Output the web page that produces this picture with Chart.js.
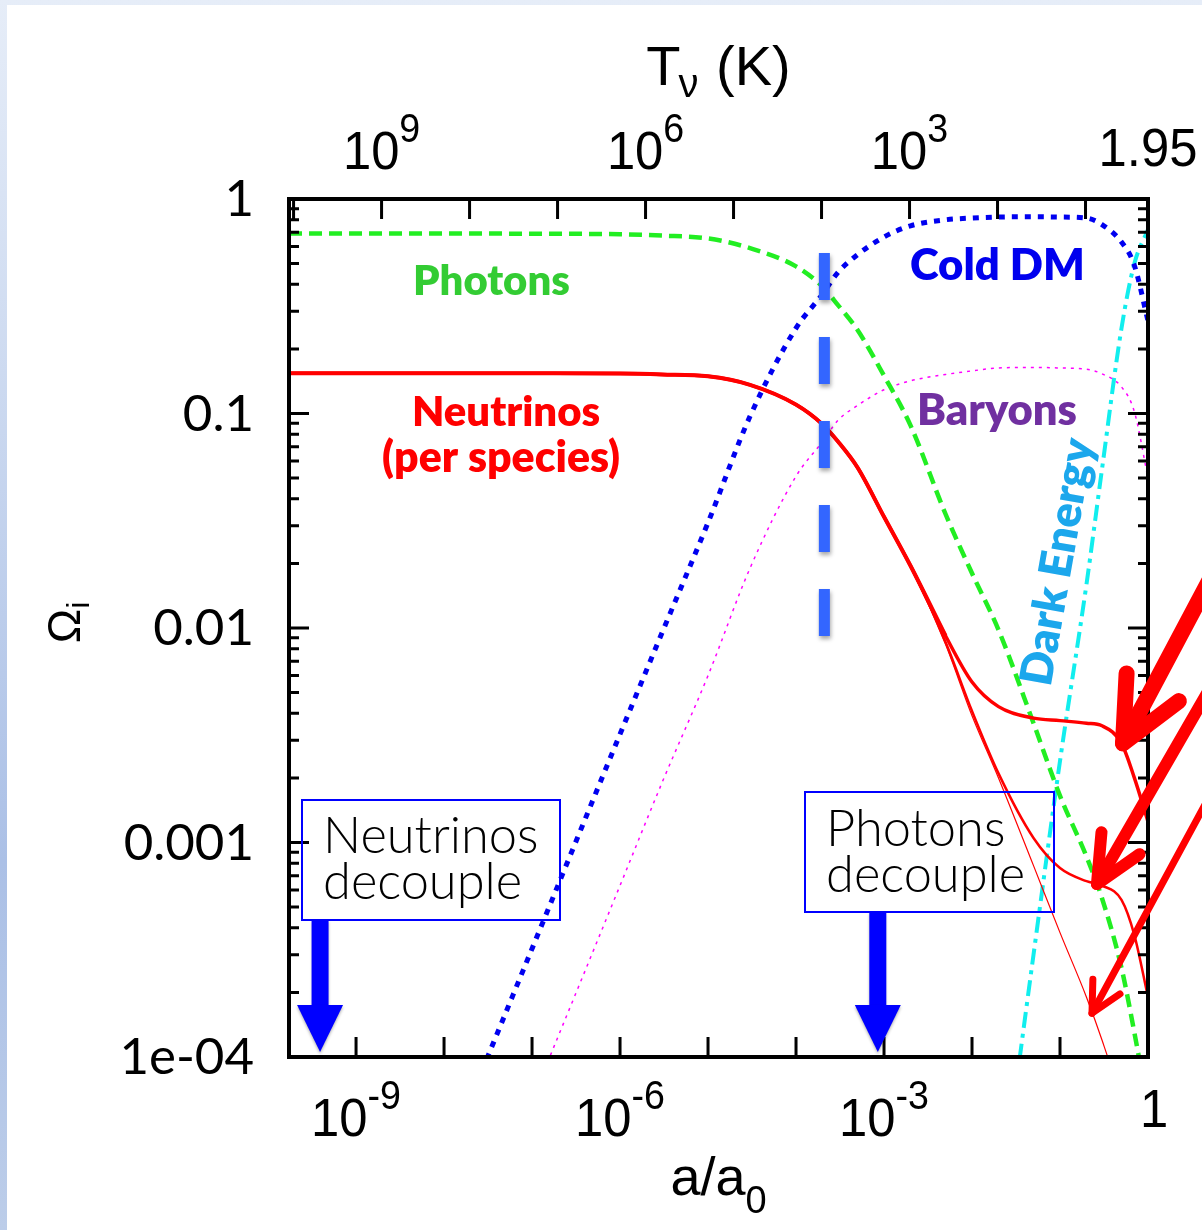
<!DOCTYPE html>
<html>
<head>
<meta charset="utf-8">
<title>Omega_i versus a/a0</title>
<script src="https://cdn.jsdelivr.net/npm/chart.js@4.4.1/dist/chart.umd.min.js"></script>
<style>
  html, body { margin: 0; padding: 0; }
  body {
    width: 1202px; height: 1230px; overflow: hidden; position: relative;
    background: linear-gradient(to bottom, #e6edf8 0%, #c9d7ef 35%, #abc0e6 70%, #bccde9 100%);
  }
  #card { position: absolute; left: 7px; top: 5px; right: 0; bottom: 0; background: #fff; }
  #chart { position: absolute; left: 0; top: 0; }
</style>
</head>
<body>
<div id="card"></div>
<canvas id="chart" width="1202" height="1230"></canvas>
<script>
const A = [1.73e-10, 1e-9, 1e-8, 1e-7, 1e-6, 3e-6, 1e-5, 3e-5, 1e-4, 2e-4, 3e-4, 5e-4, 1e-3,
           2e-3, 5e-3, 1e-2, 2e-2, 5e-2, 0.1, 0.2, 0.3, 0.5, 0.7, 1];

// Omega_i at each A (estimated from the figure)
const PHOTONS = [0.69, 0.69, 0.69, 0.689, 0.685, 0.675, 0.655, 0.59, 0.485, 0.39, 0.32, 0.245, 0.15,
                 0.088, 0.034, 0.018, 0.0098, 0.0036, 0.00165, 8.6e-4, 5.5e-4, 2.6e-4, 1.3e-4, 5.8e-5];
const NU_HEAVY = [0.154, 0.154, 0.154, 0.154, 0.1535, 0.152, 0.149, 0.136, 0.11, 0.089, 0.074, 0.056, 0.033,
                  0.0195, 0.0092, 0.0056, 0.0043, 0.0038, 0.0037, 0.0036, 0.0035, 0.0029, 0.002, 0.00125];
const NU_MEDIUM = [0.154, 0.154, 0.154, 0.154, 0.1535, 0.152, 0.149, 0.136, 0.11, 0.089, 0.074, 0.056, 0.033,
                   0.0195, 0.0086, 0.0041, 0.0021, 0.00105, 7.6e-4, 6.6e-4, 6.3e-4, 5.4e-4, 3.7e-4, 1.9e-4];
const NU_MASSLESS = [0.154, 0.154, 0.154, 0.154, 0.1535, 0.152, 0.149, 0.136, 0.11, 0.089, 0.074, 0.056, 0.033,
                     0.0195, 0.0084, 0.0039, 0.002, 7.8e-4, 3.8e-4, 1.9e-4, 1.2e-4, 6.2e-5, 3.5e-5, 1.6e-5];
const COLD_DM = [5.6e-7, 3.2e-6, 3.2e-5, 3.2e-4, 3.2e-3, 9.5e-3, 0.031, 0.097, 0.25, 0.36, 0.455, 0.55, 0.665,
                 0.75, 0.80, 0.815, 0.824, 0.826, 0.824, 0.815, 0.76, 0.63, 0.49, 0.27];
const BARYONS = [1.1e-7, 6.3e-7, 6.3e-6, 6.3e-5, 6.3e-4, 1.9e-3, 6.0e-3, 0.019, 0.051, 0.074, 0.093, 0.109, 0.129,
                 0.142, 0.152, 0.158, 0.163, 0.164, 0.163, 0.161, 0.153, 0.133, 0.102, 0.05];
const DARK_ENERGY = [null, null, null, null, null, null, null, null, null, null, null, null, null,
                     null, null, 2.3e-6, 1.8e-5, 3.0e-4, 2.4e-3, 0.016, 0.055, 0.25, 0.5, 0.72];

// matter-radiation equality marker and decoupling epochs
const EQUALITY_A = 2.1e-4;
const EQUALITY_SPAN = [0.56, 0.0091];
const NU_DECOUPLE_A = 3.9e-10;
const GAMMA_DECOUPLE_A = 8.5e-4;

// axes
const A_MIN = 1.73e-10, A_MAX = 1;
const OMEGA_MIN = 1e-4, OMEGA_MAX = 1;
const T_NU_TODAY = 1.95;
const A_TICKS = [1e-9, 1e-8, 1e-7, 1e-6, 1e-5, 1e-4, 1e-3, 1e-2, 1e-1];
const A_TICK_LABELS = [[1e-9, '10', '-9'], [1e-6, '10', '-6'], [1e-3, '10', '-3'], [1, '1', '']];
const T_TICKS = [1e10, 1e9, 1e8, 1e7, 1e6, 1e5, 1e4, 1e3, 1e2, 1e1];
const T_TICK_LABELS = [[1e9, '10', '9'], [1e6, '10', '6'], [1e3, '10', '3'], [1.95, '1.95', '']];
const OMEGA_DECADES = [1, 0.1, 0.01, 0.001, 1e-4];
const OMEGA_LABELS = ['1', '0.1', '0.01', '0.001', '1e-04'];

const HELV = '"Liberation Sans", Arial, sans-serif';
const GOTHIC = 'Lato, "Open Sans", sans-serif';

const pts = ys => A.map((a, i) => ({ x: a, y: ys[i] }));

function curve(label, ys, color, width, dash) {
  return {
    label, data: pts(ys), borderColor: color, borderWidth: width, borderDash: dash || [],
    borderCapStyle: 'butt', pointRadius: 0, fill: false, cubicInterpolationMode: 'monotone',
  };
}

// dataset 0 is painted last (on top)
const datasets = [
  {
    label: 'equality', data: [{ x: EQUALITY_A, y: EQUALITY_SPAN[0] }, { x: EQUALITY_A, y: EQUALITY_SPAN[1] }],
    borderColor: '#3366ff', borderWidth: 11, borderDash: [47, 37], borderCapStyle: 'butt', pointRadius: 0,
  },
  curve('Neutrinos (heavy)', NU_HEAVY, '#ff0000', 3.5),
  curve('Neutrinos (medium)', NU_MEDIUM, '#ff0000', 2.5),
  curve('Neutrinos (massless)', NU_MASSLESS, '#ff0000', 1.2),
  curve('Photons', PHOTONS, '#22ee22', 4.5, [13, 7]),
  curve('Cold DM', COLD_DM, '#0000f0', 5, [6, 7]),
  curve('Baryons', BARYONS, '#ff00ff', 1.5, [3, 5]),
  curve('Dark Energy', DARK_ENERGY, '#11eeee', 4, [16, 6, 4, 6]),
];
// early neutrino trunk is drawn thick
datasets.push(curve('Neutrinos', NU_HEAVY.map((v, i) => (A[i] <= 5e-3 ? v : null)), '#ff0000', 4));

const shadowPlugin = {
  id: 'shadow',
  beforeDatasetDraw(chart, args) {
    if (args.index !== 0) return;
    const ctx = chart.ctx;
    ctx.save();
    ctx.shadowColor = 'rgba(0,0,0,0.35)';
    ctx.shadowBlur = 4;
    ctx.shadowOffsetX = 1;
    ctx.shadowOffsetY = 3;
  },
  afterDatasetDraw(chart, args) {
    if (args.index === 0) chart.ctx.restore();
  },
};

function fitFont(ctx, text, weight, family, width) {
  ctx.font = `${weight} 100px ${family}`;
  const size = 100 * width / ctx.measureText(text).width;
  ctx.font = `${weight} ${size.toFixed(1)}px ${family}`;
  return size;
}

function drawPower(ctx, base, exp, cx, baseline, size) {
  ctx.save();
  ctx.translate(cx, baseline);
  ctx.scale(0.94, 1);
  const esize = size * 0.74;
  ctx.font = `${size}px ${HELV}`;
  const wb = ctx.measureText(base).width;
  ctx.font = `${esize}px ${HELV}`;
  const we = exp ? ctx.measureText(exp).width : 0;
  const x0 = -(wb + we) / 2;
  ctx.textAlign = 'left';
  ctx.textBaseline = 'alphabetic';
  ctx.fillStyle = '#000';
  ctx.font = `${size}px ${HELV}`;
  ctx.fillText(base, x0, 0);
  if (exp) {
    ctx.font = `${esize}px ${HELV}`;
    ctx.fillText(exp, x0 + wb, -size * 0.5);
  }
  ctx.restore();
}

function redArrow(ctx, tx, ty, dir, width, head, spread) {
  const ang = Math.atan2(dir[1], dir[0]);
  const s = spread * Math.PI / 180;
  ctx.save();
  ctx.strokeStyle = '#ff0000';
  ctx.lineWidth = width;
  ctx.lineCap = 'round';
  ctx.lineJoin = 'round';
  ctx.beginPath();
  ctx.moveTo(tx, ty);
  ctx.lineTo(tx + Math.cos(ang) * 400, ty + Math.sin(ang) * 400);
  ctx.stroke();
  ctx.beginPath();
  ctx.moveTo(tx + Math.cos(ang - s) * head, ty + Math.sin(ang - s) * head);
  ctx.lineTo(tx, ty);
  ctx.lineTo(tx + Math.cos(ang + s) * head, ty + Math.sin(ang + s) * head);
  ctx.stroke();
  ctx.restore();
}

function blueArrow(ctx, x, yTop, yTip) {
  ctx.save();
  ctx.fillStyle = '#0000ff';
  ctx.shadowColor = 'rgba(0,0,0,0.3)';
  ctx.shadowBlur = 3;
  ctx.shadowOffsetY = 2;
  ctx.fillRect(x - 8.5, yTop, 17, yTip - 47 - yTop + 1);
  ctx.beginPath();
  ctx.moveTo(x - 23, yTip - 47);
  ctx.lineTo(x + 23, yTip - 47);
  ctx.lineTo(x, yTip);
  ctx.closePath();
  ctx.fill();
  ctx.restore();
}

const framePlugin = {
  id: 'frame',
  afterDatasetsDraw(chart) {
    const ctx = chart.ctx;
    const { left, right, top, bottom } = chart.chartArea;
    const xs = chart.scales.x, ys = chart.scales.y;

    // tick marks, all pointing inward
    ctx.save();
    ctx.strokeStyle = '#000';
    ctx.lineWidth = 3;
    ctx.beginPath();
    A_TICKS.forEach(a => {
      const x = xs.getPixelForValue(a);
      ctx.moveTo(x, bottom); ctx.lineTo(x, bottom - 20);
    });
    T_TICKS.forEach(t => {
      const x = xs.getPixelForValue(T_NU_TODAY / t);
      if (x < left || x > right) return;
      ctx.moveTo(x, top); ctx.lineTo(x, top + 20);
    });
    OMEGA_DECADES.forEach(d => {
      for (let m = 1; m <= 9; m++) {
        const v = d * m;
        if (v > OMEGA_MAX) break;
        const y = ys.getPixelForValue(v);
        const len = m === 1 ? 20 : 10;
        ctx.moveTo(left, y); ctx.lineTo(left + len, y);
        ctx.moveTo(right, y); ctx.lineTo(right - len, y);
      }
    });
    ctx.stroke();
    ctx.lineWidth = 4;
    ctx.strokeRect(left, top, right - left, bottom - top);
    ctx.restore();

    // Omega tick labels
    ctx.save();
    ctx.fillStyle = '#000';
    ctx.font = `51px ${GOTHIC}`;
    ctx.textAlign = 'right';
    ctx.textBaseline = 'middle';
    OMEGA_DECADES.forEach((d, i) => ctx.fillText(OMEGA_LABELS[i], left - 35, ys.getPixelForValue(d) + 1));
    ctx.restore();

    A_TICK_LABELS.forEach(([a, b, e]) => {
      drawPower(ctx, b, e, xs.getPixelForValue(a) + (e ? 0 : 6), e ? bottom + 79 : bottom + 70, 54);
    });
    T_TICK_LABELS.forEach(([t, b, e]) => {
      drawPower(ctx, b, e, xs.getPixelForValue(T_NU_TODAY / t), e ? top - 30 : top - 33, 54);
    });

    // axis titles
    const cx = (left + right) / 2;
    ctx.save();
    ctx.fillStyle = '#000';
    ctx.textBaseline = 'alphabetic';
    ctx.textAlign = 'left';
    ctx.font = `54px ${HELV}`;
    let w1 = ctx.measureText('a/a').width;
    ctx.font = `38px ${HELV}`;
    let w2 = ctx.measureText('0').width;
    let x0 = cx - (w1 + w2) / 2;
    ctx.font = `54px ${HELV}`;
    ctx.fillText('a/a', x0, bottom + 138);
    ctx.font = `38px ${HELV}`;
    ctx.fillText('0', x0 + w1, bottom + 156);

    ctx.font = `56px ${HELV}`;
    w1 = ctx.measureText('T').width;
    const w3 = ctx.measureText(' (K)').width;
    ctx.font = `40px ${HELV}`;
    w2 = ctx.measureText('\u03bd').width;
    x0 = cx - (w1 + w2 + w3) / 2;
    ctx.font = `56px ${HELV}`;
    ctx.fillText('T', x0, top - 114);
    ctx.fillText(' (K)', x0 + w1 + w2, top - 114);
    ctx.font = `40px ${HELV}`;
    ctx.fillText('\u03bd', x0 + w1 - 2, top - 102);

    ctx.translate(80, 620);
    ctx.rotate(-Math.PI / 2);
    ctx.font = `46px ${HELV}`;
    w1 = ctx.measureText('\u03a9').width;
    ctx.fillText('\u03a9', -w1 / 2 - 6, 0);
    ctx.font = `32px ${HELV}`;
    ctx.fillText('i', w1 / 2 - 6, 9);
    ctx.restore();

    // curve labels
    const labels = [
      ['Photons', 413, 295, 157, '#33cc33'],
      ['Cold DM', 910, 280, 175, '#0000ee'],
      ['Neutrinos', 412, 426, 188, '#ff0000'],
      ['(per species)', 382, 472, 238, '#ff0000'],
      ['Baryons', 917, 425, 160, '#7030a0'],
    ];
    ctx.save();
    ctx.textAlign = 'left';
    ctx.textBaseline = 'alphabetic';
    labels.forEach(([t, x, y, w, c]) => {
      fitFont(ctx, t, 800, GOTHIC, w);
      ctx.fillStyle = c;
      ctx.fillText(t, x, y);
    });
    ctx.translate(1058, 562);
    ctx.rotate(-80 * Math.PI / 180);
    fitFont(ctx, 'Dark Energy', 800, GOTHIC, 250);
    ctx.fillStyle = '#1ca7ec';
    ctx.textAlign = 'center';
    ctx.textBaseline = 'middle';
    ctx.fillText('Dark Energy', 0, 0);
    ctx.restore();

    // decoupling boxes and arrows
    const axisY = ys.getPixelForValue(OMEGA_MIN);
    ctx.save();
    ctx.strokeStyle = '#0000ff';
    ctx.lineWidth = 2;
    ctx.strokeRect(302, 800, 258, 120);
    ctx.strokeRect(805, 792, 249, 120);
    ctx.fillStyle = '#000';
    ctx.textAlign = 'left';
    ctx.textBaseline = 'alphabetic';
    fitFont(ctx, 'decouple', 300, GOTHIC, 199);
    ctx.fillText('Neutrinos', 323, 853);
    ctx.fillText('decouple', 323, 899);
    ctx.fillText('Photons', 826, 846);
    ctx.fillText('decouple', 826, 892);
    ctx.restore();
    blueArrow(ctx, xs.getPixelForValue(NU_DECOUPLE_A), 920, axisY - 5);
    blueArrow(ctx, xs.getPixelForValue(GAMMA_DECOUPLE_A), 912, axisY - 5);

    // red arrows pointing at the massive neutrino curves
    redArrow(ctx, xs.getPixelForValue(0.52), ys.getPixelForValue(0.0029), [79, -149], 16, 70, 25);
    redArrow(ctx, xs.getPixelForValue(0.263), ys.getPixelForValue(6.4e-4), [105, -182], 12, 52, 25);
    redArrow(ctx, xs.getPixelForValue(0.231), ys.getPixelForValue(1.6e-4), [110, -203], 7, 34, 27);
  },
};

new Chart(document.getElementById('chart'), {
  type: 'line',
  data: { datasets },
  options: {
    responsive: false,
    animation: false,
    devicePixelRatio: 1,
    layout: { padding: { left: 289, right: 54, top: 199, bottom: 173 } },
    scales: {
      x: { type: 'logarithmic', min: A_MIN, max: A_MAX, display: false },
      y: { type: 'logarithmic', min: OMEGA_MIN, max: OMEGA_MAX, display: false },
    },
    plugins: { legend: { display: false }, tooltip: { enabled: false } },
  },
  plugins: [shadowPlugin, framePlugin],
});
</script>
</body>
</html>
